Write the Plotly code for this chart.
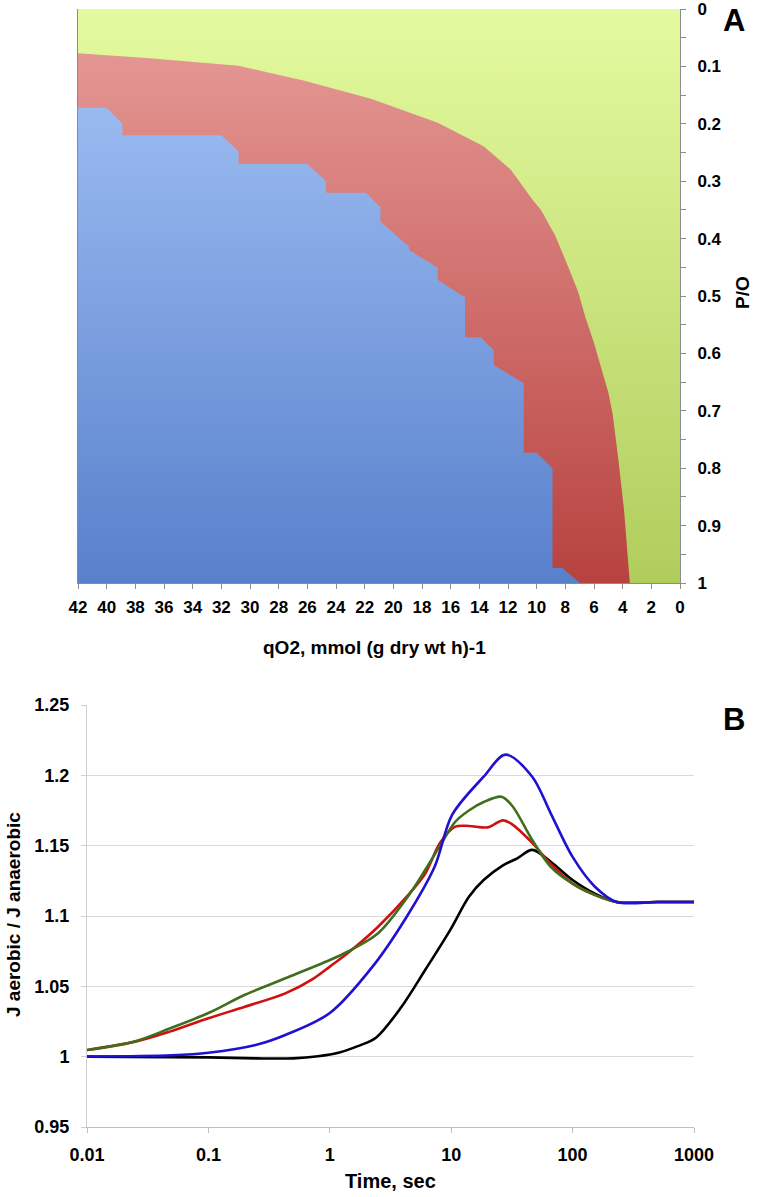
import plotly.graph_objects as go

# ---------------- Panel A data ----------------
qo2_range = [42, 0]
po_range = [0, 1]

red_qo2 = [42, 37.0, 30.8, 26.2, 21.5, 16.9, 13.7, 11.8, 10.3, 9.7, 8.7, 7.8, 7.1, 6.6, 6.0, 5.5, 5.0, 4.7, 4.3, 3.9, 3.5]
red_po = [0.077, 0.086, 0.099, 0.125, 0.157, 0.198, 0.239, 0.28, 0.332, 0.35, 0.395, 0.449, 0.493, 0.537, 0.582,
          0.625, 0.668, 0.705, 0.785, 0.874, 1.0]

blue_qo2 = [42, 40.0, 38.9, 38.9, 32.0, 30.8, 30.8, 26.0, 24.7, 24.7, 21.9, 20.9, 20.9, 18.9, 18.9,
            16.9, 16.9, 15.0, 15.0, 13.9, 13.0, 13.0, 10.9, 10.9, 10.0, 8.9, 8.9, 8.2, 7.0]
blue_po = [0.172, 0.172, 0.20, 0.22, 0.22, 0.248, 0.27, 0.27, 0.30, 0.32, 0.32, 0.346, 0.37, 0.414, 0.42,
           0.451, 0.472, 0.502, 0.572, 0.572, 0.594, 0.62, 0.652, 0.773, 0.773, 0.80, 0.974, 0.974, 1.0]

qo2_ticks = list(range(0, 43, 2))
po_ticks = [0, 0.1, 0.2, 0.3, 0.4, 0.5, 0.6, 0.7, 0.8, 0.9, 1]
po_ticktext = ["0", "0.1", "0.2", "0.3", "0.4", "0.5", "0.6", "0.7", "0.8", "0.9", "1"]

# ---------------- Panel B data ----------------
t_blue = [0.01, 0.05, 0.1, 0.245, 0.43, 1.0, 2.25, 4.3, 7.3, 10.2, 18.5, 28, 46.5, 66, 100, 152, 230, 500, 1000]
y_blue = [1.0, 1.001, 1.0028, 1.0083, 1.0154, 1.031, 1.064, 1.0995, 1.135, 1.172, 1.199, 1.2147, 1.199, 1.173,
          1.142, 1.121, 1.110, 1.110, 1.110]

t_red = [0.01, 0.025, 0.048, 0.1, 0.2, 0.43, 0.74, 1.0, 1.4, 2.5, 4.3, 6.1, 8.1, 10.8, 14, 20, 26.7, 32, 46.5,
         66, 100, 152, 230, 500, 1000]
y_red = [1.0047, 1.0107, 1.0178, 1.0273, 1.0355, 1.045, 1.0557, 1.064, 1.0735, 1.0924, 1.1137, 1.13, 1.152,
         1.1635, 1.164, 1.163, 1.168, 1.165, 1.152, 1.137, 1.123, 1.115, 1.110, 1.110, 1.110]

t_green = [0.01, 0.025, 0.048, 0.1, 0.2, 0.43, 1.0, 1.4, 2.5, 4.3, 6.1, 8.1, 10.8, 14, 18.5, 26, 32, 46.5, 66,
           100, 152, 230, 500, 1000]
y_green = [1.0047, 1.011, 1.020, 1.031, 1.044, 1.0557, 1.0687, 1.0746, 1.0877, 1.1126, 1.1327, 1.150, 1.167,
           1.175, 1.181, 1.1848, 1.178, 1.154, 1.135, 1.123, 1.115, 1.110, 1.110, 1.110]

t_black = [0.01, 0.1, 0.25, 0.5, 0.8, 1.2, 1.7, 2.4, 3.9, 6.1, 9.8, 14, 18.5, 26.7, 35, 46.5, 66, 100, 152, 230,
           500, 1000]
y_black = [1.0, 0.9995, 0.9988, 0.9988, 1.0003, 1.003, 1.0075, 1.0135, 1.0355, 1.0616, 1.09, 1.1137, 1.1256, 1.136,
           1.141, 1.147, 1.1386, 1.1256, 1.116, 1.110, 1.110, 1.110]

t_ticks = [0.01, 0.1, 1, 10, 100, 1000]
t_ticktext = ["0.01", "0.1", "1", "10", "100", "1000"]

FONT = "Liberation Sans, Arial, sans-serif"
W, H = 758, 1197

fig = go.Figure()

# Panel A: green background region
fig.add_trace(go.Scatter(
    x=[qo2_range[0], qo2_range[1], qo2_range[1], qo2_range[0], qo2_range[0]],
    y=[po_range[0], po_range[0], po_range[1], po_range[1], po_range[0]],
    fill="toself", mode="none", xaxis="x", yaxis="y",
    fillgradient=dict(type="vertical", colorscale=[[0, "#e4fa9f"], [1, "#b0cd5c"]], start=0, stop=1),
    hoverinfo="skip", showlegend=False))

# red region
fig.add_trace(go.Scatter(
    x=red_qo2 + [42, 42], y=red_po + [1.0, red_po[0]],
    fill="toself", mode="none", xaxis="x", yaxis="y",
    fillgradient=dict(type="vertical", colorscale=[[0, "#e89d9a"], [1, "#b7423f"]], start=0, stop=1),
    hoverinfo="skip", showlegend=False))

# blue region
fig.add_trace(go.Scatter(
    x=blue_qo2 + [42, 42], y=blue_po + [1.0, blue_po[0]],
    fill="toself", mode="none", xaxis="x", yaxis="y",
    fillgradient=dict(type="vertical", colorscale=[[0, "#a7c6f8"], [1, "#5880cb"]], start=0, stop=1),
    hoverinfo="skip", showlegend=False))

# Panel B curves
for tx, ty, col in [(t_black, y_black, "#000000"), (t_red, y_red, "#d01010"),
                    (t_green, y_green, "#3f6e1c"), (t_blue, y_blue, "#2010d0")]:
    fig.add_trace(go.Scatter(x=tx, y=ty, mode="lines", xaxis="x2", yaxis="y2",
                             line=dict(color=col, width=2.6, shape="spline", smoothing=0.9),
                             hoverinfo="skip", showlegend=False))

tickfont = dict(family=FONT, size=17, color="#000000", weight="bold")
titlefont = dict(family=FONT, size=19, color="#000000", weight="bold")

fig.update_layout(
    width=W, height=H,
    margin=dict(l=0, r=0, t=0, b=0, autoexpand=False),
    paper_bgcolor="white", plot_bgcolor="white",
    showlegend=False,
    xaxis=dict(domain=[78 / W, 680 / W], range=qo2_range, tickvals=qo2_ticks, automargin=False,
               showgrid=False, zeroline=False, showline=True, linecolor="#8c8c8c", linewidth=1,
               ticks="outside", ticklen=5, tickcolor="#8c8c8c", tickfont=tickfont,
               anchor="y", ticklabelstandoff=4, ticklabeloverflow="allow"),
    yaxis=dict(domain=[1 - 583 / H, 1 - 9 / H], range=[1, 0], side="right", automargin=False,
               tickvals=po_ticks, ticktext=po_ticktext,
               minor=dict(dtick=0.05, ticks="outside", ticklen=5, tickcolor="#8c8c8c", showgrid=False),
               showgrid=False, zeroline=False, showline=True, linecolor="#8c8c8c", linewidth=1,
               mirror=True, ticks="outside", ticklen=5, tickcolor="#8c8c8c", tickfont=tickfont,
               anchor="x", ticklabelstandoff=8, ticklabeloverflow="allow"),
    xaxis2=dict(domain=[87 / W, 694 / W], type="log", range=[-2, 3], tickvals=t_ticks, ticktext=t_ticktext,
                automargin=False,
                showgrid=False, zeroline=False, showline=True, linecolor="#bfbfbf", linewidth=1,
                ticks="outside", ticklen=5, tickcolor="#bfbfbf",
                tickfont=dict(family=FONT, size=18, color="#000000", weight="bold"),
                anchor="y2", ticklabelstandoff=6, ticklabeloverflow="allow"),
    yaxis2=dict(domain=[1 - 1127 / H, 1 - 705 / H], range=[0.95, 1.25], dtick=0.05, tick0=0.95,
                automargin=False,
                showgrid=True, gridcolor="#d9d9d9", gridwidth=1, zeroline=False,
                showline=True, linecolor="#d0d0d0", linewidth=1,
                ticks="outside", ticklen=5, tickcolor="#d0d0d0",
                tickfont=dict(family=FONT, size=18, color="#000000", weight="bold"),
                anchor="x2", ticklabelstandoff=8, ticklabeloverflow="allow"),
    annotations=[
        dict(text="A", x=734 / W, y=1 - 20 / H, xref="paper", yref="paper", showarrow=False,
             font=dict(family=FONT, size=31, color="#000000", weight="bold"), xanchor="center", yanchor="middle"),
        dict(text="B", x=734 / W, y=1 - 719 / H, xref="paper", yref="paper", showarrow=False,
             font=dict(family=FONT, size=31, color="#000000", weight="bold"), xanchor="center", yanchor="middle"),
        dict(text="qO2, mmol (g dry wt h)-1", x=374 / W, y=1 - 647 / H, xref="paper", yref="paper",
             showarrow=False, font=titlefont, xanchor="center", yanchor="middle"),
        dict(text="P/O", x=742 / W, y=1 - 293 / H, xref="paper", yref="paper", textangle=-90,
             showarrow=False, font=dict(family=FONT, size=19, color="#000000", weight="bold"),
             xanchor="center", yanchor="middle"),
        dict(text="Time, sec", x=390 / W, y=1 - 1181 / H, xref="paper", yref="paper",
             showarrow=False, font=dict(family=FONT, size=20, color="#000000", weight="bold"),
             xanchor="center", yanchor="middle"),
        dict(text="J aerobic / J anaerobic", x=13 / W, y=1 - 915 / H, xref="paper", yref="paper",
             textangle=-90, showarrow=False, font=titlefont, xanchor="center", yanchor="middle"),
    ],
)

fig.write_html("out.html", config={"displayModeBar": False},
               post_script="document.body.style.margin='0px';")
